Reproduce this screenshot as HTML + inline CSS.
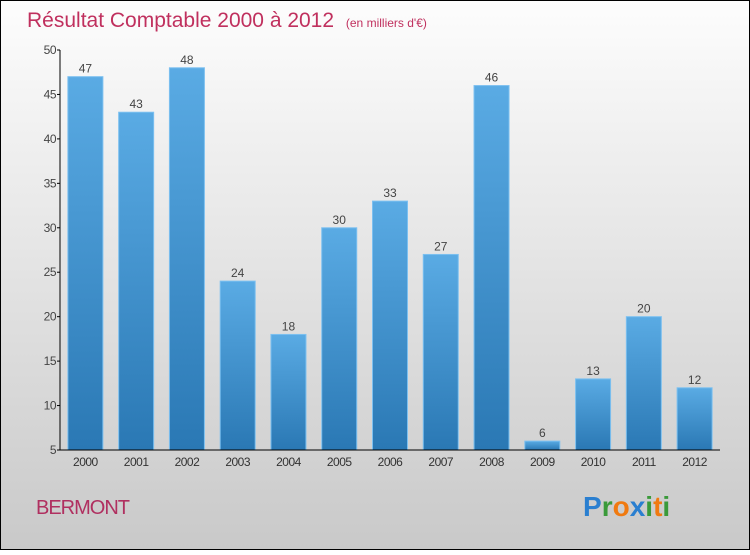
<!DOCTYPE html>
<html><head><meta charset="utf-8"><style>
html,body{margin:0;padding:0}
body{width:750px;height:550px;overflow:hidden;font-family:"Liberation Sans",sans-serif}
</style></head><body>
<svg id="chart" width="750" height="550" xmlns="http://www.w3.org/2000/svg">
<defs>
<linearGradient id="bg" x1="0" y1="0" x2="0" y2="1"><stop offset="0" stop-color="#fdfdfd"/><stop offset="1" stop-color="#c9c9c9"/></linearGradient>
<linearGradient id="bar" x1="0" y1="0" x2="0" y2="1"><stop offset="0" stop-color="#5aabe4"/><stop offset="1" stop-color="#2a78b4"/></linearGradient>
</defs>
<rect x="0.5" y="0.5" width="749" height="549" fill="url(#bg)" stroke="#000"/>
<text x="27" y="27" font-size="21" fill="#c0305e">Résultat Comptable 2000 à 2012 <tspan font-size="12" dx="6">(en milliers d'€)</tspan></text>
<g id="bars"></g>
<g id="axes"></g>
<text x="36" y="514" font-size="20" fill="#b03060" letter-spacing="-1">BERMONT</text>
<g font-size="28" font-weight="bold" font-family="Liberation Sans, sans-serif">
<text x="583" y="516"><tspan fill="#2a7fd0">P</tspan><tspan fill="#3a9a3a">r</tspan><tspan fill="#f07a10">o</tspan><tspan fill="#2a7fd0">x</tspan><tspan fill="#3a9a3a">i</tspan><tspan fill="#f07a10">t</tspan><tspan fill="#3a9a3a">i</tspan></text>
</g>
</svg>
<script>
const categories=["2000","2001","2002","2003","2004","2005","2006","2007","2008","2009","2010","2011","2012"];
const values=[47,43,48,24,18,30,33,27,46,6,13,20,12];
const yTicks=[5,10,15,20,25,30,35,40,45,50];
const NS="http://www.w3.org/2000/svg";
const x0=60,x1=720,yTop=50,yBot=450,vMin=5,vMax=50;
const band=(x1-x0)/categories.length;
function xs(i){return x0+band*i+band/2;}
function ys(v){return yBot-(v-vMin)/(vMax-vMin)*(yBot-yTop);}
function el(t,a,p){const e=document.createElementNS(NS,t);for(const k in a)e.setAttribute(k,a[k]);p.appendChild(e);return e;}
const bars=document.getElementById('bars'),axes=document.getElementById('axes');
values.forEach((v,i)=>{
 const cx=xs(i),w=35,y=ys(v);
 const r=el('rect',{x:cx-w/2,y:y,width:w,height:yBot-y,fill:'url(#bar)',stroke:'#7cc0f0','stroke-width':1},bars);
 
 
 const t=el('text',{x:cx,y:y-4,'text-anchor':'middle','font-size':12,fill:'#444'},bars);
 t.textContent=v;
 
 
 const c=el('text',{x:cx,y:466,'text-anchor':'middle','font-size':12,fill:'#333','letter-spacing':'-0.5'},axes);
 c.textContent=categories[i];
 
 
});
const ya=el('line',{x1:x0,y1:yTop,x2:x0,y2:yBot,stroke:'#000'},axes);


const xa=el('line',{x1:x0,y1:yBot,x2:x1,y2:yBot,stroke:'#000'},axes);


yTicks.forEach(v=>{
 const y=ys(v);
 el('line',{x1:x0-3,y1:y,x2:x0,y2:y,stroke:'#000'},axes);
 const t=el('text',{x:x0-4,y:y+4,'text-anchor':'end','font-size':12,fill:'#444','letter-spacing':'-0.5'},axes);
 t.textContent=v;
 
 
});
</script>
</body></html>
